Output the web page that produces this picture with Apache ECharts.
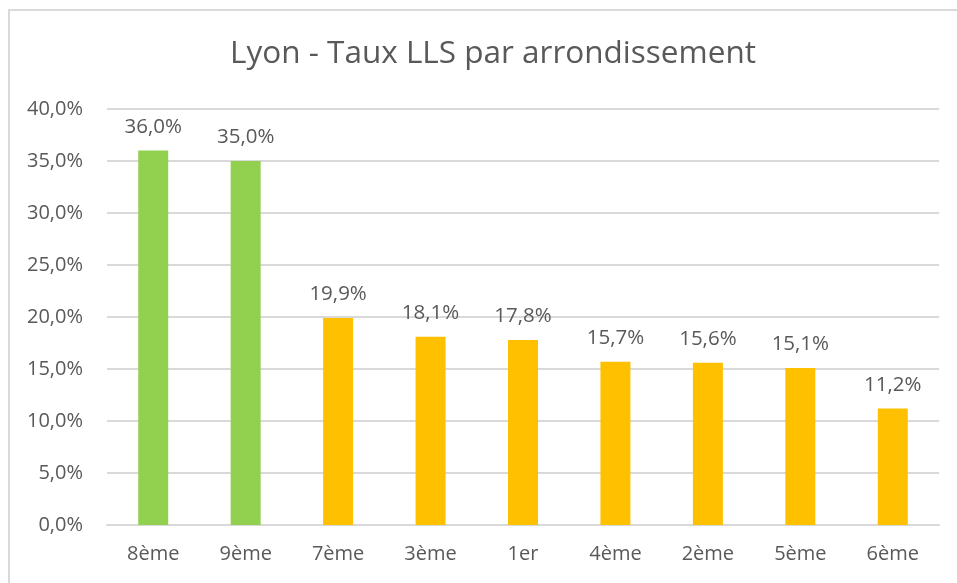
<!DOCTYPE html>
<html lang="fr">
  <head>
    <meta charset="UTF-8" />
    <title>Lyon - Taux LLS</title>
    <script src="https://cdn.jsdelivr.net/npm/echarts@6/dist/echarts.min.js"></script>
    <style>
      html, body { margin: 0; padding: 0; background: #fff; }
      #chart { width: 957px; height: 583px; }
      #frame { position: absolute; left: 8px; top: 9px; width: 960px; height: 600px;
               border-top: 2px solid #d9d9d9; border-left: 2px solid #d9d9d9; pointer-events: none; }
    </style>
  </head>
  <body>
    <div id="chart"></div>
    <div id="frame"></div>
    <script>
      // données
      var categories = ['8ème', '9ème', '7ème', '3ème', '1er', '4ème', '2ème', '5ème', '6ème'];
      var values = [36.0, 35.0, 19.9, 18.1, 17.8, 15.7, 15.6, 15.1, 11.2];
      var barColors = ['#92D050', '#92D050', '#FFC000', '#FFC000', '#FFC000', '#FFC000', '#FFC000', '#FFC000', '#FFC000'];
      var yTicks = [0, 5, 10, 15, 20, 25, 30, 35, 40];

      var textColor = '#595959';
      var fontName = 'Open Sans';

      function pct(v) {
        return v.toFixed(1).replace('.', ',') + '%';
      }

      var chart = echarts.init(document.getElementById('chart'));

      var barData = [];
      for (var i = 0; i < values.length; i += 1) {
        barData.push({ value: values[i], itemStyle: { color: barColors[i] } });
      }

      chart.setOption({
        animation: false,
        title: {
          text: 'Lyon - Taux LLS par arrondissement',
          left: 488,
          textAlign: 'center',
          top: 33,
          textStyle: { color: textColor, fontSize: 31.5, fontWeight: 'normal', fontFamily: fontName }
        },
        grid: { left: 107, right: 18, top: 109, bottom: 58, containLabel: false },
        xAxis: {
          type: 'category',
          data: categories,
          axisTick: { show: false },
          axisLine: { lineStyle: { color: '#d9d9d9', width: 2 } },
          axisLabel: { color: textColor, fontSize: 20, fontFamily: fontName, margin: 19 }
        },
        yAxis: {
          type: 'value',
          min: yTicks[0],
          max: yTicks[yTicks.length - 1],
          interval: 5,
          axisLine: { show: false },
          axisTick: { show: false },
          splitLine: { lineStyle: { color: '#d9d9d9', width: 2 } },
          axisLabel: {
            color: textColor, fontSize: 20, fontFamily: fontName, margin: 24,
            formatter: function (v) { return pct(v); }
          }
        },
        series: [
          {
            type: 'bar',
            barWidth: 30,
            data: barData,
            label: {
              show: true,
              position: 'top',
              distance: 13,
              color: textColor,
              fontSize: 20.5,
              fontFamily: fontName,
              formatter: function (p) { return pct(p.value); }
            }
          }
        ]
      });
    </script>
  </body>
</html>
